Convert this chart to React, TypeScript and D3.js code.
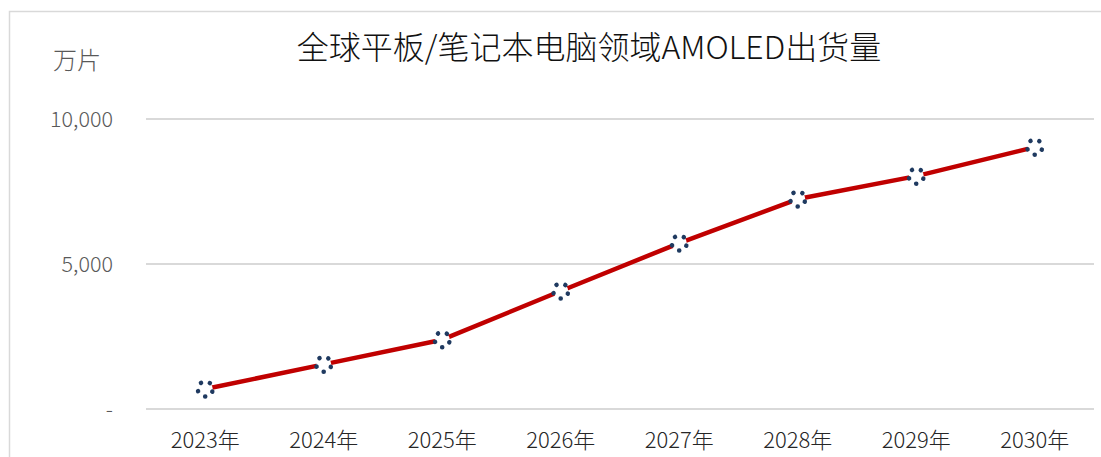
import React, { useEffect, useRef } from 'react';
import * as d3 from 'd3';

// data
const years = ['2023年', '2024年', '2025年', '2026年', '2027年', '2028年', '2029年', '2030年'];
const shipments = [690, 1540, 2390, 4070, 5720, 7240, 8030, 9030];
const yTicks = [0, 5000, 10000];

const W = 1101;
const H = 457;
const FONT = '"Noto Sans CJK SC", "Noto Sans", sans-serif';

const App = () => {
  const ref = useRef<SVGSVGElement>(null);

  useEffect(() => {
    const svg = d3.select(ref.current);
    svg.selectAll('*').remove();

    const margin = { top: 119, right: 7, bottom: 48, left: 146 };

    // chart frame
    svg
      .append('rect')
      .attr('x', 9.5)
      .attr('y', 11.5)
      .attr('width', W + 20)
      .attr('height', H + 20)
      .attr('fill', 'white')
      .attr('stroke', '#d9d9d9')
      .attr('stroke-width', 1.5);

    const x = d3
      .scaleBand()
      .domain(years)
      .range([margin.left, W - margin.right])
      .padding(0);

    const y = d3.scaleLinear().domain([0, 10000]).range([H - margin.bottom, margin.top]);

    // gridlines
    svg
      .selectAll('.grid')
      .data(yTicks)
      .enter()
      .append('line')
      .attr('x1', margin.left)
      .attr('x2', W - margin.right)
      .attr('y1', (d) => y(d))
      .attr('y2', (d) => y(d))
      .attr('stroke', '#d9d9d9')
      .attr('stroke-width', 1.8);

    // y tick labels
    svg
      .selectAll('.ylab')
      .data(yTicks)
      .enter()
      .append('text')
      .attr('x', 113)
      .attr('y', (d) => y(d))
      .attr('dy', '0.35em')
      .attr('text-anchor', 'end')
      .attr('font-family', FONT)
      .attr('font-weight', 300)
      .attr('font-size', 21.5)
      .attr('fill', '#595959')
      .text((d) => (d === 0 ? '-' : d3.format(',')(d)));

    // x labels
    svg
      .selectAll('.xlab')
      .data(years)
      .enter()
      .append('text')
      .attr('x', (d) => x(d)! + x.bandwidth() / 2)
      .attr('y', 448)
      .attr('text-anchor', 'middle')
      .attr('font-family', FONT)
      .attr('font-weight', 300)
      .attr('font-size', 22)
      .attr('fill', '#262626')
      .text((d) => d);

    // unit
    svg
      .append('text')
      .attr('x', 77)
      .attr('y', 69)
      .attr('text-anchor', 'middle')
      .attr('font-family', FONT)
      .attr('font-weight', 300)
      .attr('font-size', 24)
      .attr('fill', '#595959')
      .text('万片');

    // title
    svg
      .append('text')
      .attr('x', 589)
      .attr('y', 59)
      .attr('text-anchor', 'middle')
      .attr('font-family', FONT)
      .attr('font-weight', 300)
      .attr('font-size', 32)
      .attr('fill', '#111111')
      .text('全球平板/笔记本电脑领域AMOLED出货量');

    const pts = years.map((yr, i) => ({ yr, v: shipments[i] }));
    const line = d3
      .line<{ yr: string; v: number }>()
      .x((d) => x(d.yr)! + x.bandwidth() / 2)
      .y((d) => y(d.v));

    svg
      .append('path')
      .datum(pts)
      .attr('d', line)
      .attr('fill', 'none')
      .attr('stroke', '#c00000')
      .attr('stroke-width', 4.5)
      .attr('stroke-linejoin', 'round');

    // dotted markers
    const r = 7.5;
    const per = (2 * Math.PI * r) / 5;
    svg
      .selectAll('.mk')
      .data(pts)
      .enter()
      .append('circle')
      .attr('cx', (d) => x(d.yr)! + x.bandwidth() / 2)
      .attr('cy', (d) => y(d.v))
      .attr('r', r)
      .attr('fill', 'white')
      .attr('stroke', '#1f3a60')
      .attr('stroke-width', 4.5)
      .attr('stroke-linecap', 'round')
      .attr('stroke-dasharray', `0.1 ${per - 0.1}`)
      .attr('transform-origin', (d) => `${x(d.yr)! + x.bandwidth() / 2} ${y(d.v)}`)
      .attr('transform', 'rotate(90)');
  }, []);

  return (
    <svg
      ref={ref}
      width={W}
      height={H}
      style={{ position: 'absolute', left: 0, top: 0, background: 'white' }}
    />
  );
};

export default App;
